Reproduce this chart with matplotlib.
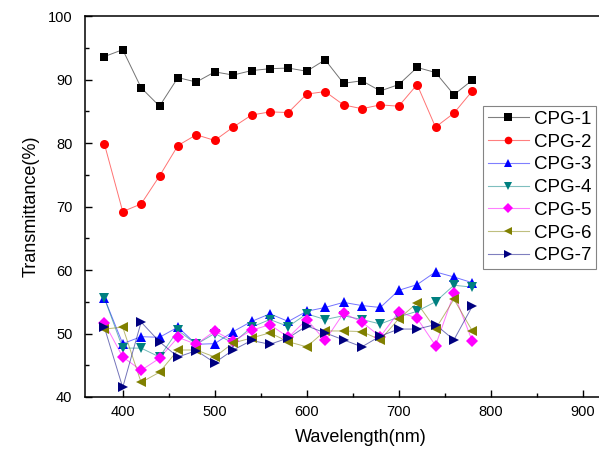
import numpy as np
import matplotlib
matplotlib.use('Agg')
import matplotlib.pyplot as plt
from matplotlib.ticker import MultipleLocator
from matplotlib.lines import Line2D

plt.rcParams['font.family'] = ['Liberation Sans', 'DejaVu Sans']

# wavelength (nm)
wl = [380, 400, 420, 440, 460, 480, 500, 520, 540, 560, 580,
      600, 620, 640, 660, 680, 700, 720, 740, 760, 780]

cpg1 = [93.6, 94.7, 88.7, 85.8, 90.3, 89.6, 91.2, 90.7, 91.4, 91.7, 91.8,
        91.3, 93.1, 89.4, 89.8, 88.2, 89.2, 91.9, 91.1, 87.6, 89.9]
cpg2 = [79.9, 69.2, 70.4, 74.8, 79.6, 81.3, 80.4, 82.5, 84.4, 84.9, 84.8,
        87.7, 88.1, 86.0, 85.4, 86.0, 85.8, 89.2, 82.5, 84.7, 88.2]
cpg3 = [55.6, 48.4, 49.5, 49.4, 51.0, 48.3, 48.4, 50.3, 51.9, 53.1, 51.9,
        53.5, 54.1, 54.9, 54.4, 54.1, 56.8, 57.7, 59.7, 58.9, 58.0]
cpg4 = [55.6, 47.7, 47.7, 46.3, 50.5, 48.3, 50.0, 48.5, 51.0, 52.2, 51.1,
        53.1, 52.2, 52.8, 52.2, 51.5, 52.6, 53.5, 55.0, 57.6, 57.3]
cpg5 = [51.7, 46.3, 44.2, 46.1, 49.4, 48.3, 50.4, 48.8, 50.5, 51.4, 49.4,
        52.2, 48.9, 53.2, 51.8, 49.5, 53.4, 52.4, 48.1, 56.3, 48.8]
cpg6 = [50.7, 51.0, 42.3, 43.9, 47.4, 47.4, 46.3, 48.5, 49.3, 50.1, 48.7,
        47.9, 50.4, 50.4, 50.3, 49.0, 52.3, 54.8, 50.7, 55.4, 50.4]
cpg7 = [51.0, 41.5, 51.8, 48.7, 46.3, 47.3, 45.4, 47.4, 48.9, 48.3, 49.3,
        51.2, 50.1, 49.0, 47.9, 49.6, 50.7, 50.7, 51.4, 49.0, 54.3]

names = ['CPG-1', 'CPG-2', 'CPG-3', 'CPG-4', 'CPG-5', 'CPG-6', 'CPG-7']
series = [cpg1, cpg2, cpg3, cpg4, cpg5, cpg6, cpg7]
colors = ['#000000', '#ff0000', '#0000ff', '#008080', '#ff00ff', '#808000', '#000080']
markers = ['s', 'o', '^', 'v', 'D', '<', '>']
msizes = [6, 6.5, 7, 7, 6, 7, 7]

fig = plt.figure(figsize=(5.99, 4.53), dpi=100)
# axes runs past the right edge like the original crop
ax = fig.add_axes([85/599, 56/453, 552/599, 381/453])

for y, c, m, ms in zip(series, colors, markers, msizes):
    # faint connecting line, solid markers on top
    ax.plot(wl, y, color=c, lw=0.7, alpha=0.55, zorder=1.5)
    ax.plot(wl, y, ls='None', color=c, marker=m, ms=ms, markeredgewidth=0, zorder=2)

ax.set_xlim(359, 959)
ax.set_ylim(40, 100)
ax.xaxis.set_major_locator(MultipleLocator(100))
ax.xaxis.set_minor_locator(MultipleLocator(50))
ax.yaxis.set_major_locator(MultipleLocator(10))
ax.yaxis.set_minor_locator(MultipleLocator(5))
ax.tick_params(which='major', direction='in', length=5, width=1, labelsize=10.5)
ax.tick_params(which='minor', direction='in', length=3, width=1)
ax.tick_params(axis='x', which='major', pad=6)
ax.tick_params(axis='y', which='major', pad=9)
ax.tick_params(top=False, right=False, which='both')
for s in ax.spines.values():
    s.set_linewidth(1.1)

ax.set_xlabel('Wavelength(nm)', fontsize=13, labelpad=7)
ax.set_ylabel('Transmittance(%)', fontsize=13, labelpad=6)

# legend: solid marker over a faint line
handles = []
for c, m in zip(colors, markers):
    ln = Line2D([0], [0], color=c, lw=0.8, alpha=0.5)
    mk = Line2D([0], [0], ls='None', color=c, marker=m, ms=5.5, markeredgewidth=0)
    handles.append((ln, mk))
leg = fig.legend(handles, names, loc='upper left', bbox_to_anchor=(483/599, 1 - 106/453),
                 fontsize=13.5, frameon=True, fancybox=False, edgecolor='#666666',
                 handlelength=2.2, handletextpad=0.25, labelspacing=0.3,
                 borderpad=0.25, borderaxespad=0)
leg.get_frame().set_linewidth(0.8)

fig.savefig('out.png', dpi=100)
